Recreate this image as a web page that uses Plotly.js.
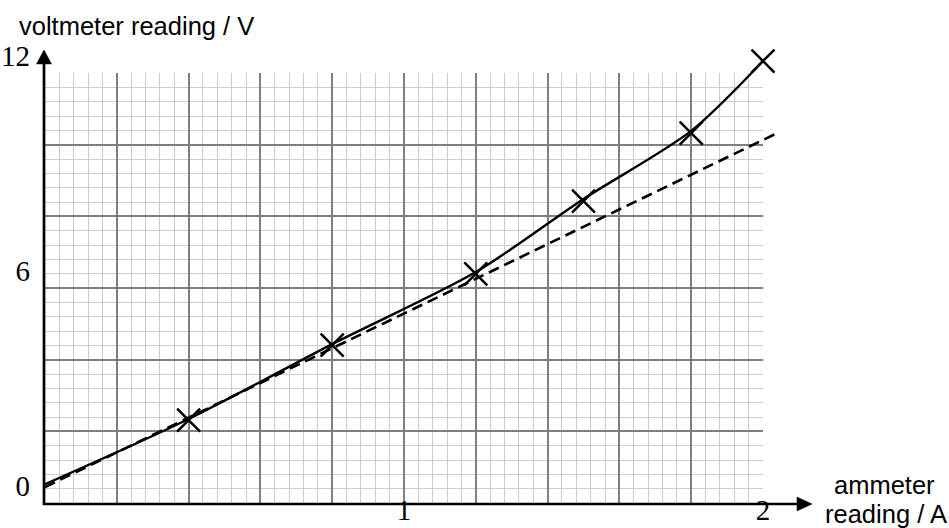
<!DOCTYPE html>
<html>
<head>
<meta charset="utf-8">
<script src="https://cdn.plot.ly/plotly-3.0.1.min.js"></script>
<style>html,body{margin:0;padding:0;background:#fff;}#chart{width:949px;height:528px;}</style>
</head>
<body>
<div id="chart"></div>
<script>
// ---- data ----
const currentA = [0.4, 0.8, 1.2, 1.5, 1.8, 2.0];          // measured points (A)
const voltageV = [1.84, 3.93, 5.92, 7.95, 9.85, 11.86];    // measured points (V)
const curveA = [0, 0.4, 0.8, 1.2, 1.5, 1.8, 2.0];          // hand-drawn curve
const curveV = [0.05, 1.87, 3.96, 5.97, 8.01, 9.91, 11.86];
const fitA = [0, 2.04];                                    // dashed straight line
const fitV = [-0.03, 9.85];
const xTickVals = [1, 2];
const yTickVals = [0, 6, 12];
const xTitle1 = 'ammeter';
const xTitle2 = 'reading / A';
const yTitle = 'voltmeter reading / V';

// ---- layout helpers (pixel -> paper) ----
const W = 949, H = 528;
const M = {l: 45, r: 149, t: 40, b: 25};
const PW = W - M.l - M.r, PH = H - M.t - M.b;
const px = x => (x - M.l) / PW;
const py = y => (H - M.b - y) / PH;
const k = 430 / 12;               // px per volt
const zeroPx = 486;               // pixel row of 0 V label

const black = '#000';
const serif = 'Liberation Serif, Times New Roman, serif';
const sans = 'Liberation Sans, Arial, sans-serif';
const traces = [
  {x: [], y: [], xaxis: 'x', yaxis: 'y', type: 'scatter', mode: 'markers', showlegend: false, hoverinfo: 'skip'},
  {x: fitA, y: fitV, xaxis: 'x2', yaxis: 'y2', type: 'scatter', mode: 'lines',
   line: {color: black, width: 2.6, dash: '11px,6px'}, cliponaxis: false, showlegend: false},
  {x: curveA, y: curveV, xaxis: 'x2', yaxis: 'y2', type: 'scatter', mode: 'lines',
   line: {color: black, width: 2.4, shape: 'spline', smoothing: 0.8}, cliponaxis: false, showlegend: false},
  {x: currentA, y: voltageV, xaxis: 'x2', yaxis: 'y2', type: 'scatter', mode: 'markers',
   marker: {symbol: 'x-thin', size: 23, line: {color: black, width: 2.5}, color: black},
   cliponaxis: false, showlegend: false}
];

const gridAxis = {
  showticklabels: false, ticks: '', zeroline: false, showline: false,
  showgrid: true, gridcolor: '#7f7f7f', gridwidth: 2, fixedrange: true
};

const layout = {
  width: W, height: H,
  margin: {l: M.l, r: M.r, t: M.t, b: M.b, pad: 0},
  paper_bgcolor: '#fff', plot_bgcolor: 'rgba(0,0,0,0)',
  showlegend: false,
  xaxis: Object.assign({}, gridAxis, {domain: [0, 718 / PW], range: [0, 2], tick0: 0, dtick: 0.2, anchor: 'y',
    minor: {dtick: 0.04, tick0: 0, showgrid: true, gridcolor: '#cccccc', gridwidth: 1}}),
  yaxis: Object.assign({}, gridAxis, {domain: [0, 430 / PH], range: [0, 12], tick0: 0, dtick: 2, anchor: 'x',
    minor: {dtick: 0.4, tick0: 0, showgrid: true, gridcolor: '#cccccc', gridwidth: 1}}),
  xaxis2: {domain: [0, 1], anchor: 'y2', range: [0, PW / 359], tickmode: 'array', tickvals: xTickVals,
    showgrid: false, zeroline: false, showline: false, ticks: '',
    tickfont: {family: serif, size: 29, color: black}, ticklabelstandoff: -13},
  yaxis2: {domain: [0, 1], anchor: 'x2', range: [(zeroPx - (H - M.b)) / k, (zeroPx - M.t) / k],
    tickmode: 'array', tickvals: yTickVals,
    showgrid: false, zeroline: false, showline: false, ticks: '',
    tickfont: {family: serif, size: 29, color: black}, ticklabelstandoff: 14},
  shapes: [
    {type: 'line', xref: 'paper', yref: 'paper', x0: px(44), y0: py(505), x1: px(44), y1: py(62),
     line: {color: black, width: 2.7}},
    {type: 'line', xref: 'paper', yref: 'paper', x0: px(43), y0: py(504), x1: px(799), y1: py(504),
     line: {color: black, width: 2.7}},
    {type: 'path', xref: 'paper', yref: 'paper',
     path: `M ${px(44)},${py(50)} L ${px(36.5)},${py(64)} L ${px(51.5)},${py(64)} Z`,
     fillcolor: black, line: {color: black, width: 0.5}},
    {type: 'path', xref: 'paper', yref: 'paper',
     path: `M ${px(812)},${py(504)} L ${px(797)},${py(497)} L ${px(797)},${py(511)} Z`,
     fillcolor: black, line: {color: black, width: 0.5}}
  ],
  annotations: [
    {text: yTitle, xref: 'paper', yref: 'paper', x: px(17), y: py(26), xanchor: 'left', yanchor: 'middle',
     showarrow: false, font: {family: sans, size: 25.5, color: black}},
    {text: xTitle1, xref: 'paper', yref: 'paper', x: px(884), y: py(485), xanchor: 'center', yanchor: 'middle',
     showarrow: false, font: {family: sans, size: 25.5, color: black}},
    {text: xTitle2, xref: 'paper', yref: 'paper', x: px(886), y: py(514), xanchor: 'center', yanchor: 'middle',
     showarrow: false, font: {family: sans, size: 25.5, color: black}}
  ]
};

Plotly.newPlot('chart', traces, layout, {staticPlot: true, displayModeBar: false});
</script>
</body>
</html>
